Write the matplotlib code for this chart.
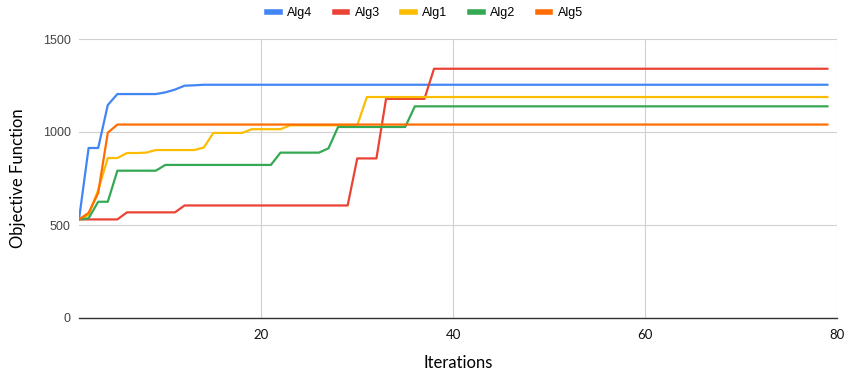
import matplotlib.pyplot as plt

# breakpoints of each series (iteration, objective value); lines are straight between them
alg4_it = [1, 2, 3, 4, 5, 9, 10, 11, 12, 13, 14, 79]
alg4_val = [530, 914, 914, 1145, 1204, 1204, 1213, 1228, 1249, 1251, 1254, 1254]

alg3_it = [1, 5, 6, 11, 12, 29, 30, 32, 33, 37, 38, 79]
alg3_val = [530, 530, 568, 568, 605, 605, 858, 858, 1178, 1178, 1340, 1340]

alg1_it = [1, 2, 3, 4, 5, 6, 7, 8, 9, 13, 14, 15, 18, 19, 22, 23, 30, 31, 79]
alg1_val = [530, 554, 688, 860, 860, 887, 887, 889, 903, 903, 916, 995, 995,
            1015, 1015, 1036, 1036, 1188, 1188]

alg2_it = [1, 2, 3, 4, 5, 9, 10, 21, 22, 26, 27, 28, 35, 36, 79]
alg2_val = [530, 536, 625, 625, 792, 792, 823, 823, 889, 889, 912, 1027, 1027, 1138, 1138]

alg5_it = [1, 2, 3, 4, 5, 79]
alg5_val = [530, 565, 672, 996, 1040, 1040]

series = [
    ("Alg4", alg4_it, alg4_val, "#4285F4"),
    ("Alg3", alg3_it, alg3_val, "#EA4335"),
    ("Alg1", alg1_it, alg1_val, "#FBBC04"),
    ("Alg2", alg2_it, alg2_val, "#34A853"),
    ("Alg5", alg5_it, alg5_val, "#FF6D01"),
]

fig = plt.figure(figsize=(8.5, 3.9), dpi=100)
ax = fig.add_axes([79 / 850, 1 - 318 / 390, (837 - 79) / 850, (318 - 39) / 390])

for name, it, val, col in series:
    ax.plot(it, val, color=col, linewidth=1.6, label=name, solid_joinstyle='round')

ax.set_xlim(1, 80)
ax.set_ylim(0, 1500)
ax.set_xticks([20, 40, 60, 80])
ax.set_yticks([0, 500, 1000, 1500])
ax.grid(True, color="#d0d0d0", linewidth=0.8)
ax.set_axisbelow(True)
for s in ["top", "right", "left"]:
    ax.spines[s].set_visible(False)
ax.spines["bottom"].set_color("#333333")
ax.spines["bottom"].set_linewidth(1)
ax.tick_params(axis="both", length=0)
ax.tick_params(axis="y", pad=6, labelcolor="#444444", labelsize=9)
ax.tick_params(axis="x", pad=8, labelcolor="#111111", labelsize=9.5)
for lab in ax.get_yticklabels():
    lab.set_family("Liberation Sans")
for lab in ax.get_xticklabels():
    lab.set_family("Lato")

ax.set_xlabel("Iterations", family="Lato", fontsize=12, labelpad=10)
ax.set_ylabel("Objective Function", family="Lato", fontsize=12, labelpad=12)

fig.legend(loc="center", bbox_to_anchor=(0.5, 1 - 13 / 390), ncol=5, frameon=False,
           prop={"family": "Liberation Sans", "size": 9}, handlelength=1.0,
           handletextpad=0.6, columnspacing=1.8)
for line in fig.legends[0].get_lines():
    line.set_linewidth(4)

fig.savefig("out.png", dpi=100)
